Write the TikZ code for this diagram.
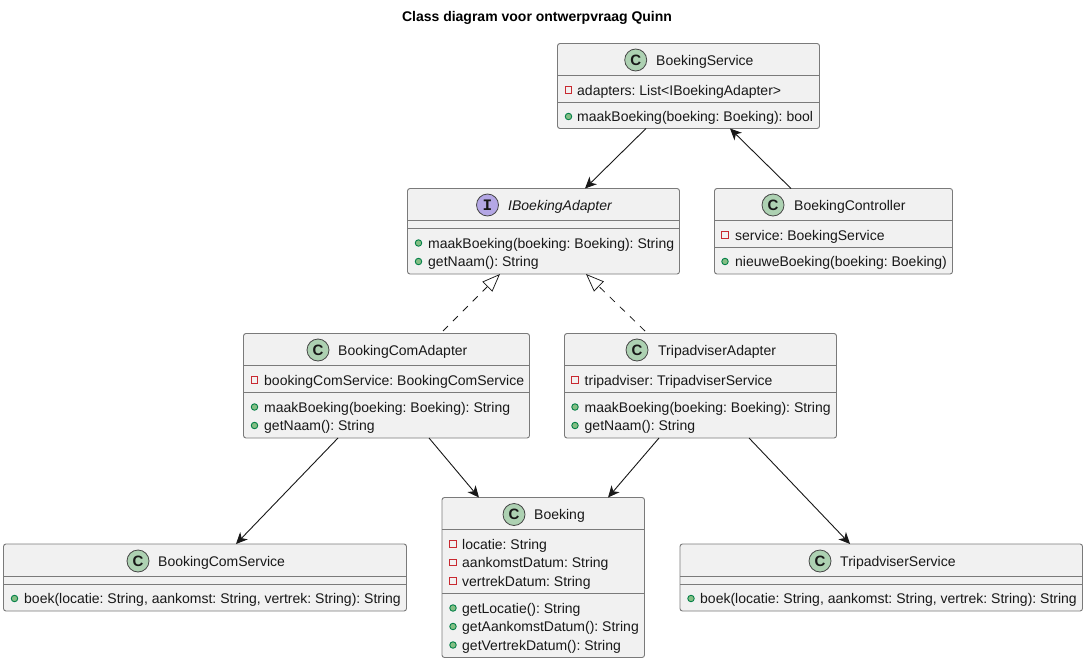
\documentclass[tikz,border=0pt]{standalone}
\usepackage{fontspec}
\setmainfont{Liberation Sans}
\newfontfamily\iconfont{Liberation Mono}
\usetikzlibrary{arrows.meta}
\definecolor{boxfill}{HTML}{F1F1F1}
\definecolor{boxline}{HTML}{7A7A7A}
\definecolor{ink}{HTML}{181818}
\definecolor{classicon}{HTML}{ADD1B2}
\definecolor{ifaceicon}{HTML}{B4A7E5}
\definecolor{privline}{HTML}{C82930}
\definecolor{pubfill}{HTML}{84BE84}
\definecolor{publine}{HTML}{038048}
\tikzset{
  x=1pt,y=-1pt,
  umlbox/.style={draw=boxline,fill=boxfill,line width=0.9pt,rounded corners=2.5pt,inner sep=0pt},
  divider/.style={draw=boxline,line width=0.9pt},
  member/.style={anchor=base west,inner sep=0pt,text=ink,font=\frenchspacing\fontsize{14}{16}\selectfont},
  classname/.style={member},
  iconbadge/.style={circle,draw=ink!80,line width=0.8pt,minimum size=22pt,inner sep=0pt,font=\bfseries\fontsize{15}{15}\selectfont,text=ink},
  ifacebadge/.style={iconbadge,font=\iconfont\bfseries\fontsize{16}{16}\selectfont},
  privicon/.style={draw=privline,fill=boxfill,line width=0.9pt,minimum size=6.5pt,inner sep=0pt},
  pubicon/.style={circle,draw=publine,fill=pubfill,line width=0.9pt,minimum size=6.5pt,inner sep=0pt},
  assoc/.style={draw=ink,line width=0.9pt,-{Stealth[inset=3.4pt,length=11.5pt,width=10.5pt]}},
  realize/.style={draw=ink,line width=0.75pt,dash pattern=on 7pt off 7pt,-{Triangle[open,fill=white,length=18pt,width=14pt,line width=0.75pt]}},
}
\newcommand{\umlrect}[7]{% name x1 y1 x2 y2 div1 div2
  \path[umlbox] (#2,#3) rectangle (#4,#5);
  \node[minimum width=#4pt-#2pt,minimum height=#5pt-#3pt,inner sep=0pt,outer sep=0pt] (#1) at ({(#2+#4)/2},{(#3+#5)/2}) {};
  \draw[divider] (#2,#6) -- (#4,#6);
  \draw[divider] (#2,#7) -- (#4,#7);
}
\newcommand{\priv}[5]{% name iconx textx y text
  \node[privicon] (#1i) at (#2,#4) {};
  \node[member] (#1) at (#3,#4+5.3) {#5};
}
\newcommand{\pub}[5]{%
  \node[pubicon] (#1i) at (#2,#4) {};
  \node[member] (#1) at (#3,#4+5.3) {#5};
}
\begin{document}
\begin{tikzpicture}
\useasboundingbox (0,0) rectangle (1083,658);
\fill[white] (0,0) rectangle (1083,658);
\node[font=\frenchspacing\bfseries\fontsize{14}{16}\selectfont,inner sep=0pt,text=black] (title) at (537,17.8) {Class diagram voor ontwerpvraag Quinn};

% BoekingService
\umlrect{bs}{557.5}{43.5}{819.5}{128.5}{75.5}{102}
\node[iconbadge,fill=classicon] (bsc) at (635.7,60) {C};
\node[classname] (bsn) at (656,65.3) {BoekingService};
\priv{bsa}{568.5}{577}{90}{adapters: List<IBoekingAdapter>}
\pub{bsm}{568.5}{577}{116.5}{maakBoeking(boeking: Boeking): bool}

% IBoekingAdapter
\umlrect{ia}{407.5}{188.5}{679.5}{274}{220.5}{228}
\node[ifacebadge,fill=ifaceicon] (iac) at (487.5,205) {I};
\node[classname,font=\frenchspacing\itshape\fontsize{14}{16}\selectfont] (ian) at (508,210.3) {IBoekingAdapter};
\pub{iam}{418.5}{428}{243}{maakBoeking(boeking: Boeking): String}
\pub{iag}{418.5}{428}{261.5}{getNaam(): String}

% BoekingController
\umlrect{bc}{714.5}{188.5}{952.5}{274}{220.5}{247}
\node[iconbadge,fill=classicon] (bcc) at (773,205) {C};
\node[classname] (bcn) at (794,210.3) {BoekingController};
\priv{bca}{725}{735}{235}{service: BoekingService}
\pub{bcm}{725}{735}{261.5}{nieuweBoeking(boeking: Boeking)}

% BookingComAdapter
\umlrect{ba}{243.5}{333.5}{529.5}{438}{365.5}{392}
\node[iconbadge,fill=classicon] (bac) at (318,350) {C};
\node[classname] (ban) at (338,355.3) {BookingComAdapter};
\priv{baa}{254.5}{264}{380}{bookingComService: BookingComService}
\pub{bam}{254.5}{264}{407}{maakBoeking(boeking: Boeking): String}
\pub{bag}{254.5}{264}{425.5}{getNaam(): String}

% TripadviserAdapter
\umlrect{ta}{564.5}{333.5}{836.5}{438}{365.5}{392}
\node[iconbadge,fill=classicon] (tac) at (637,350) {C};
\node[classname] (tan) at (658,355.3) {TripadviserAdapter};
\priv{taa}{575}{584.5}{380}{tripadviser: TripadviserService}
\pub{tam}{575}{584.5}{407}{maakBoeking(boeking: Boeking): String}
\pub{tag}{575}{584.5}{425.5}{getNaam(): String}

% BookingComService
\umlrect{cs}{3.5}{544}{406.5}{611}{576}{584}
\node[iconbadge,fill=classicon] (csc) at (138,561) {C};
\node[classname] (csn) at (158,566.3) {BookingComService};
\pub{csm}{14.5}{24}{598.5}{boek(locatie: String, aankomst: String, vertrek: String): String}

% Boeking
\umlrect{bk}{442}{497.5}{644.5}{657.5}{529.5}{593}
\node[iconbadge,fill=classicon] (bkc) at (514,514.5) {C};
\node[classname] (bkn) at (534,519.8) {Boeking};
\priv{bkl}{453}{462}{544}{locatie: String}
\priv{bka}{453}{462}{562.5}{aankomstDatum: String}
\priv{bkv}{453}{462}{581}{vertrekDatum: String}
\pub{bkgl}{453}{462}{608}{getLocatie(): String}
\pub{bkga}{453}{462}{626.5}{getAankomstDatum(): String}
\pub{bkgv}{453}{462}{645}{getVertrekDatum(): String}

% TripadviserService
\umlrect{ts}{680}{544}{1082.5}{611}{576}{584}
\node[iconbadge,fill=classicon] (tsc) at (820,561) {C};
\node[classname] (tsn) at (840,566.3) {TripadviserService};
\pub{tsm}{691}{700}{598.5}{boek(locatie: String, aankomst: String, vertrek: String): String}

% Connectors
\draw[assoc] ([xshift=-42.5pt]bs.south) -- ([xshift=41.5pt]ia.north);
\draw[assoc] ([xshift=-42.5pt]bc.north) -- ([xshift=41.5pt]bs.south);
\draw[realize] ([xshift=56.5pt,yshift=2.5pt]ba.north) -- ([xshift=-43.5pt]ia.south);
\draw[realize] ([xshift=-55.5pt,yshift=2.5pt]ta.north) -- ([xshift=42.5pt]ia.south);
\draw[assoc] ([xshift=-48.5pt]ba.south) -- ([xshift=31pt]cs.north);
\draw[assoc] ([xshift=42.5pt]ba.south) -- ([xshift=-64.3pt]bk.north);
\draw[assoc] ([xshift=-41.5pt]ta.south) -- ([xshift=64.8pt]bk.north);
\draw[assoc] ([xshift=48.5pt]ta.south) -- ([xshift=-31.2pt]ts.north);
\end{tikzpicture}
\end{document}
